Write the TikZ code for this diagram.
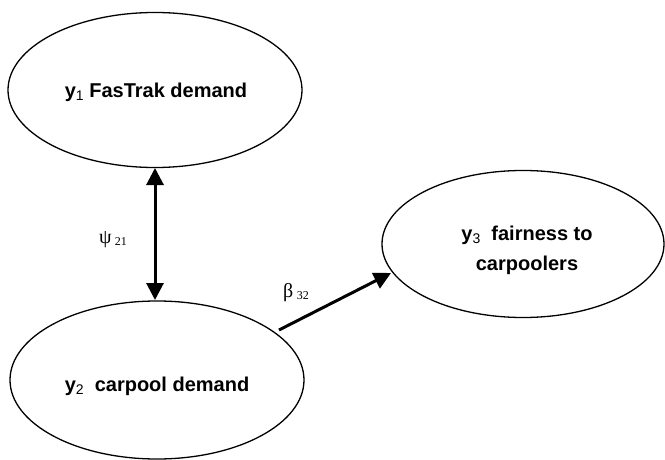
\documentclass[tikz,border=0pt]{standalone}
\usepackage{fontspec}
\setmainfont{Liberation Sans}
\newfontfamily\grk{Liberation Serif}
\usetikzlibrary{arrows.meta,shapes.geometric}
\newcommand{\sbs}[1]{\raisebox{-0.15em}{\normalfont\fontsize{14}{14}\selectfont #1}}
\newcommand{\gsb}[1]{\raisebox{-0.1em}{\fontsize{12}{12}\selectfont #1}}
\begin{document}
\begin{tikzpicture}[x=1pt,y=-1pt,
  latent/.style={draw,line width=1.3pt,ellipse,inner sep=0pt},
  lbl/.style={font=\fontsize{20}{30}\selectfont\bfseries,align=center},
  path/.style={line width=3pt,-{Triangle[length=17pt,width=17pt]}},
  cov/.style={line width=3pt,{Triangle[length=17pt,width=17pt]}-{Triangle[length=17pt,width=17pt]}},
  coef/.style={font=\grk\fontsize{20}{22}\selectfont}]
\useasboundingbox (0,0) rectangle (665,460);
\node[latent,minimum width=294pt,minimum height=155pt] (y1) at (155,90) {};
\node[latent,minimum width=294pt,minimum height=158pt] (y2) at (157,380) {};
\node[latent,minimum width=282pt,minimum height=147pt] (y3) at (523,244) {};
\node[lbl] (t1) at (156,92) {y\sbs{1} FasTrak demand};
\node[lbl] (t2) at (157,386) {y\sbs{2}\ \ carpool demand};
\node[lbl] (t3) at (527,250) {y\sbs{3}\ \ fairness to\\carpoolers};
\coordinate (a1) at (155,168);
\coordinate (a2) at (155,300);
\draw[cov] (a1) -- (a2);
\coordinate (b1) at (279,330);
\coordinate (b2) at (391,273);
\draw[path] (b1) -- (b2);
\node[coef] (psi) at (113,240) {ψ\,\gsb{21}};
\node[coef] (beta) at (296,293) {β\,\gsb{32}};
\end{tikzpicture}
\end{document}
